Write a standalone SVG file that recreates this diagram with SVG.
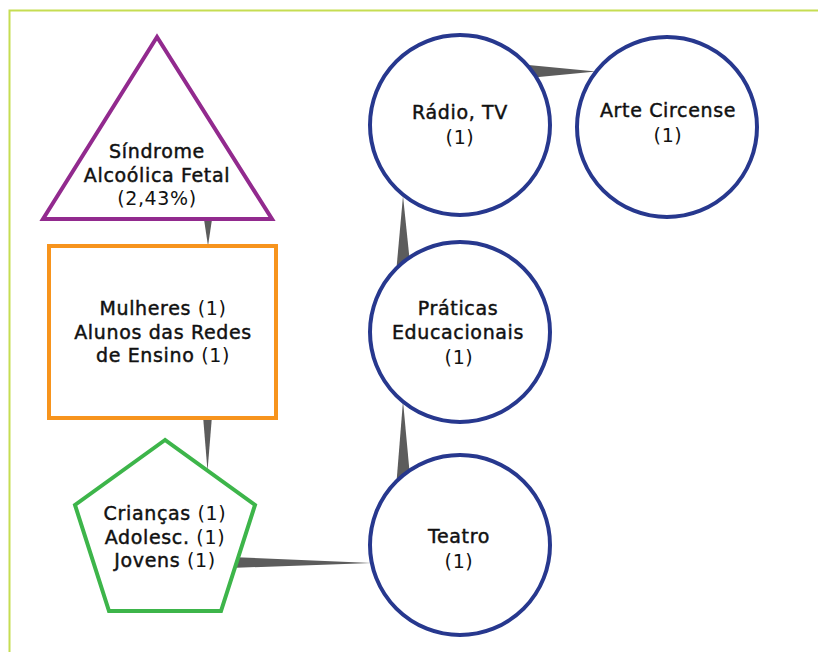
<svg xmlns="http://www.w3.org/2000/svg" width="818" height="652" viewBox="0 0 818 652">
  <defs>
    <style>
      .frame { fill: none; stroke: #c6dd52; stroke-width: 2; }
      .wedge { fill: #5c5c5c; }
      .node { fill: #ffffff; stroke-width: 4; stroke-linejoin: miter; }
      .tri { stroke: #922a8e; }
      .rect { stroke: #f7941d; }
      .pent { stroke: #3db54a; }
      .circ { stroke: #27388e; }
      text { font-family: "DejaVu Sans", "Liberation Sans", sans-serif; font-size: 19px; letter-spacing: 0.65px; fill: #111111; text-anchor: middle; }
      .b { font-weight: normal; stroke: #111111; stroke-width: 0.45; }
      .n { font-weight: normal; stroke: none; }
    </style>
  </defs>

  <!-- page frame: top and left rules -->
  <path class="frame" d="M9.5 818 V10.5 H818"/>

  <!-- tapered connectors -->
  <g id="connectors">
    <polygon class="wedge" points="203.5,216 212.5,216 208,246"/>
    <polygon class="wedge" points="203,416 212,416 207.5,471"/>
    <polygon class="wedge" points="230,557 230,568 372,563"/>
    <polygon class="wedge" points="403,401 396.5,482 410.5,482"/>
    <polygon class="wedge" points="403,196 396.5,268 410.5,268"/>
    <polygon class="wedge" points="518,64 518,79 596,71.5"/>
  </g>

  <g id="sindrome">
    <polygon class="node tri" points="157,37 43,219 272,219"/>
    <text class="b" x="157" y="158">Síndrome</text>
    <text class="b" x="157" y="182">Alcoólica Fetal</text>
    <text class="n" x="157" y="205">(2,43%)</text>
  </g>

  <g id="mulheres">
    <rect class="node rect" x="49" y="246" width="227" height="172"/>
    <text x="163" y="315"><tspan class="b">Mulheres</tspan> <tspan class="n">(1)</tspan></text>
    <text class="b" x="163" y="339">Alunos das Redes</text>
    <text x="163" y="362"><tspan class="b">de Ensino</tspan> <tspan class="n">(1)</tspan></text>
  </g>

  <g id="criancas">
    <polygon class="node pent" points="165,440 75,505 109,611 221,611 255,505"/>
    <text x="165" y="520"><tspan class="b">Crianças</tspan> <tspan class="n">(1)</tspan></text>
    <text x="165" y="544"><tspan class="b">Adolesc.</tspan> <tspan class="n">(1)</tspan></text>
    <text x="165" y="567"><tspan class="b">Jovens</tspan> <tspan class="n">(1)</tspan></text>
  </g>

  <g id="radio">
    <circle class="node circ" cx="460" cy="125" r="90"/>
    <text class="b" x="460" y="119">Rádio, TV</text>
    <text class="n" x="460" y="144">(1)</text>
  </g>

  <g id="arte">
    <circle class="node circ" cx="667" cy="127" r="90"/>
    <text class="b" x="668" y="117">Arte Circense</text>
    <text class="n" x="668" y="142">(1)</text>
  </g>

  <g id="praticas">
    <circle class="node circ" cx="460" cy="332" r="90"/>
    <text class="b" x="458" y="315">Práticas</text>
    <text class="b" x="458" y="339">Educacionais</text>
    <text class="n" x="459" y="364">(1)</text>
  </g>

  <g id="teatro">
    <circle class="node circ" cx="460" cy="545" r="90"/>
    <text class="b" x="459" y="543">Teatro</text>
    <text class="n" x="459" y="568">(1)</text>
  </g>
</svg>
